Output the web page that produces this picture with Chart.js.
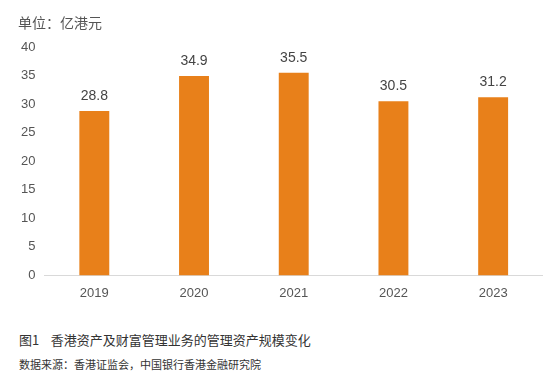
<!DOCTYPE html>
<html>
<head>
<meta charset="utf-8">
<script src="https://cdn.jsdelivr.net/npm/chart.js@4"></script>
<style>
  body { margin: 0; background: #fff; }
  #wrap { position: relative; width: 543px; height: 387px; }
  #box { position: absolute; left: 0; top: 0; width: 543px; height: 311px; }
  .unit { position: absolute; left: 18px; top: 12px; font: 14px "Noto Sans CJK SC"; color: #555; line-height: 20px; }
  .cap1 { position: absolute; left: 19px; top: 330px; font: 13px "Noto Sans CJK SC"; color: #333; }
  .cap2 { position: absolute; left: 19px; top: 356px; font: 11px "Noto Sans CJK SC"; color: #333; }
</style>
</head>
<body>
<div id="wrap">
  <div id="box"><canvas id="c"></canvas></div>
  <div class="unit" id="unit"></div>
  <div class="cap1">图1&nbsp;&nbsp;&nbsp;&nbsp;香港资产及财富管理业务的管理资产规模变化</div>
  <div class="cap2">数据来源：香港证监会，中国银行香港金融研究院</div>
</div>
<script>
const years = ['2019', '2020', '2021', '2022', '2023'];
const aum = [28.8, 34.9, 35.5, 30.5, 31.2];
const unitLabel = '单位：亿港元';

document.getElementById('unit').textContent = unitLabel;

const valueLabels = {
  id: 'valueLabels',
  afterDatasetsDraw(chart) {
    const ctx = chart.ctx;
    const meta = chart.getDatasetMeta(0);
    ctx.save();
    ctx.font = '14px "Helvetica Neue", "Liberation Sans", Arial';
    ctx.fillStyle = '#444';
    ctx.textAlign = 'center';
    ctx.textBaseline = 'bottom';
    meta.data.forEach((bar, i) => {
      ctx.fillText(aum[i].toFixed(1), bar.x, bar.y - 8);
    });
    ctx.restore();
  }
};

new Chart(document.getElementById('c'), {
  type: 'bar',
  data: {
    labels: years,
    datasets: [{
      data: aum,
      backgroundColor: '#E8801A',
      barPercentage: 0.6,
      categoryPercentage: 0.5
    }]
  },
  options: {
    responsive: true,
    maintainAspectRatio: false,
    animation: false,
    layout: { padding: { left: 12, right: 0, top: 47, bottom: 0 } },
    plugins: {
      legend: { display: false },
      tooltip: { enabled: false }
    },
    scales: {
      x: {
        grid: { display: false, drawTicks: false },
        border: { color: '#d9d9d9', width: 1 },
        ticks: { color: '#555', padding: 10, font: { size: 13, family: '"Helvetica Neue", "Liberation Sans", Arial' } }
      },
      y: {
        min: 0,
        max: 40,
        grid: { display: false, drawTicks: false },
        border: { display: false },
        ticks: { stepSize: 5, color: '#555', padding: 9, font: { size: 13, family: '"Helvetica Neue", "Liberation Sans", Arial' } }
      }
    }
  },
  plugins: [valueLabels]
});
</script>
</body>
</html>
